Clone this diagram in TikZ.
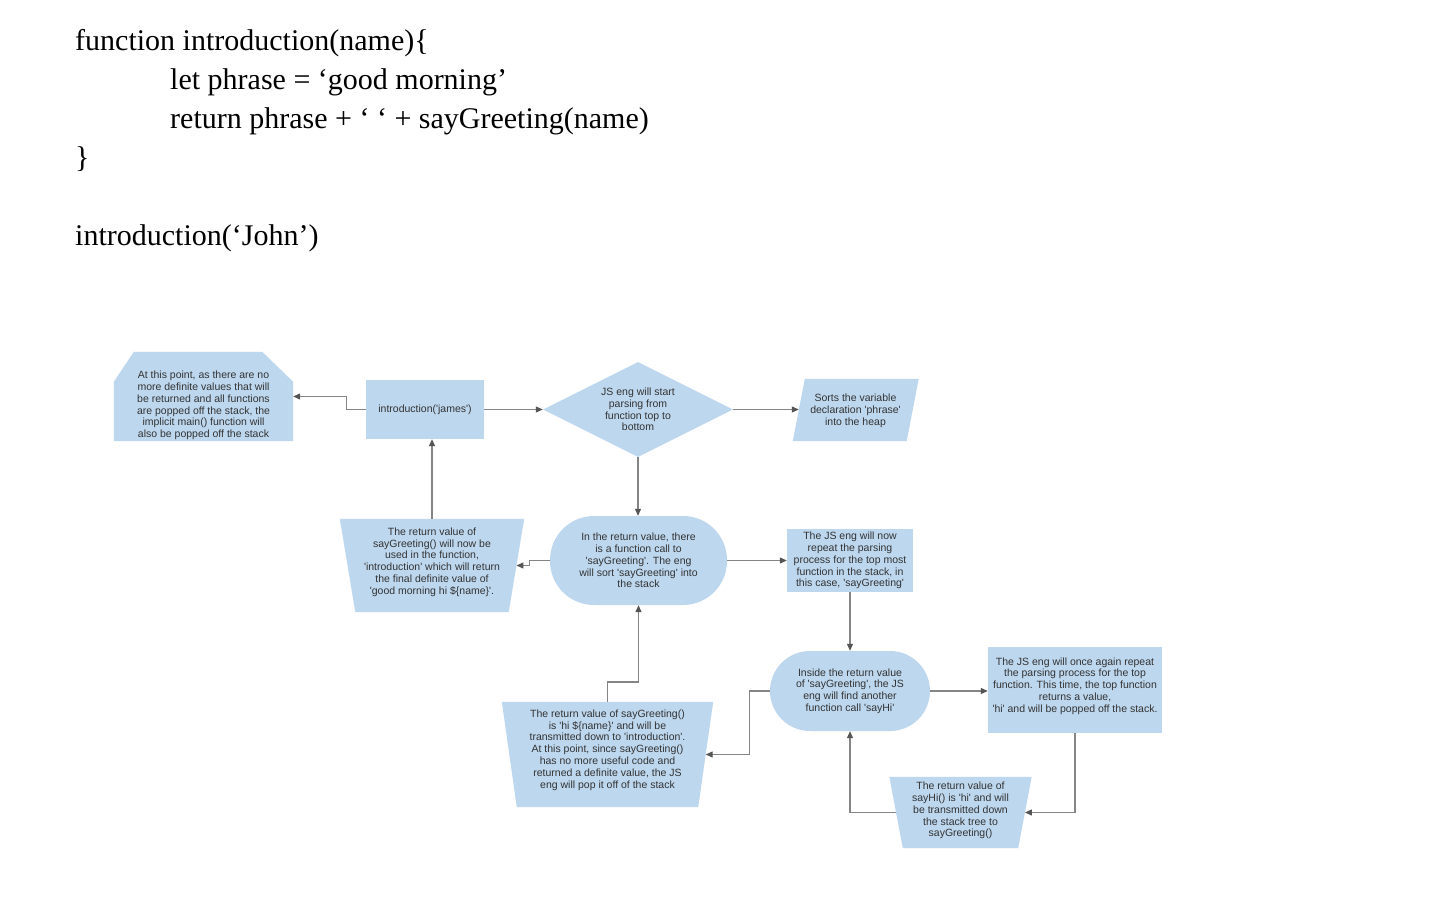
\documentclass[tikz,border=0pt]{standalone}
\usepackage{fontspec}
\setmainfont{Liberation Serif}
\newfontfamily\flowfont{Liberation Sans}[Ligatures=TeXOff]
\usetikzlibrary{shapes.geometric,arrows.meta,calc}
\definecolor{boxfill}{HTML}{BDD7EE}
\definecolor{boxtext}{HTML}{333333}
\definecolor{wiregray}{HTML}{858585}
\definecolor{tipgray}{HTML}{555555}

% fill a trapezoid that is wider at the top; #1 = node, #2 = half slant at mid height
\newcommand\trapfill[2]{%
  \fill[boxfill] ($(#1.north west)+(-#2,0)$) -- ($(#1.north east)+(#2,0)$)
    -- ($(#1.south east)+(-#2,0)$) -- ($(#1.south west)+(#2,0)$) -- cycle;}
% fill a parallelogram leaning right; #1 = node, #2 = half slant
\newcommand\slantfill[2]{%
  \fill[boxfill] ($(#1.north west)+(#2,0)$) -- ($(#1.north east)+(#2,0)$)
    -- ($(#1.south east)+(-#2,0)$) -- ($(#1.south west)+(-#2,0)$) -- cycle;}

\begin{document}
\begin{tikzpicture}[x=1pt,y=-1pt,
  code/.style={anchor=base west, inner sep=0, font=\fontsize{30}{39}\selectfont},
  txt/.style={font=\flowfont\fontsize{10.5}{11.8}\selectfont, text=boxtext, align=center, inner sep=0},
  shapebox/.style={fill=boxfill, draw=none, inner sep=0, txt},
  frame/.style={inner sep=0, draw=none},
  stadium/.style={shapebox, rectangle, rounded corners=#1},
  wire/.style={draw=wiregray, line width=1.2pt, -{Triangle[length=7pt,width=6pt,color=tipgray]}},
]
\useasboundingbox (0,0) rectangle (1452,912);
\fill[white] (0,0) rectangle (1452,912);

% source code
\node[code] (l1) at (75,51) {function introduction(name)\{};
\node[code] (l2) at (170,90) {let phrase = ‘good morning’};
\node[code] (l3) at (170,129) {return phrase + ‘ ‘ + sayGreeting(name)};
\node[code] (l4) at (75,168) {\}};
\node[code] (l5) at (75,246) {introduction(‘John’)};

% flowchart shapes
\node[frame, minimum width=179pt, minimum height=89pt] (endnote) at (203.5,396.5) {};
\fill[boxfill] ($(endnote.north west)+(0,30)$) -- ($(endnote.north west)+(20,0)$)
  -- ($(endnote.north east)+(-31,0)$) -- ($(endnote.north east)+(0,30)$)
  -- (endnote.south east) -- (endnote.south west) -- cycle;
\node[txt] (endnotetext) at (203.5,405.5) {At this point, as there are no\\more definite values that will\\be returned and all functions\\are popped off the stack, the\\implicit main() function will\\also be popped off the stack};

\node[shapebox, minimum width=118pt, minimum height=59pt] (call) at (425,409.5) {introduction('james')};

\node[shapebox, diamond, aspect=2, minimum width=190pt, minimum height=95pt] (parse) at (638,409.5)
  {JS eng will start\\parsing from\\function top to\\bottom};

\node[frame, minimum width=113.5pt, minimum height=62pt] (heap) at (855.75,410) {};
\slantfill{heap}{6}
\node[txt] (heaptext) at (855.5,411) {Sorts the variable\\declaration 'phrase'\\into the heap};

\node[frame, minimum width=168.5pt, minimum height=93pt] (usedin) at (432,565.5) {};
\trapfill{usedin}{7.75}
\node[txt] (usedintext) at (432,562) {The return value of\\sayGreeting() will now be\\used in the function,\\'introduction' which will return\\the final definite value of\\'good morning hi \$\{name\}'.};

\node[stadium=44pt, minimum width=177pt, minimum height=89pt] (stack) at (638.5,560.5)
  {In the return value, there\\is a function call to\\'sayGreeting'. The eng\\will sort 'sayGreeting' into\\the stack};

\node[shapebox, minimum width=126pt, minimum height=63pt] (repeat) at (850,560.5)
  {The JS eng will now\\repeat the parsing\\process for the top most\\function in the stack, in\\this case, 'sayGreeting'};

\node[stadium=40pt, minimum width=160pt, minimum height=80pt] (inner) at (850,691)
  {Inside the return value\\of 'sayGreeting', the JS\\eng will find another\\function call 'sayHi'};

\node[shapebox, minimum width=174pt, minimum height=86pt] (again) at (1075,690) {};
\node[txt] (againtext) at (1075,686) {The JS eng will once again repeat\\the parsing process for the top\\function. This time, the top function\\returns a value,\\'hi' and will be popped off the stack.};

\node[frame, minimum width=128.5pt, minimum height=71pt] (sayhiret) at (960.5,812.5) {};
\trapfill{sayhiret}{6.75}
\node[txt] (sayhirettext) at (960.5,810.5) {The return value of\\sayHi() is 'hi' and will\\be transmitted down\\the stack tree to\\sayGreeting()};

\node[frame, minimum width=196pt, minimum height=105pt] (greetret) at (607.5,754.5) {};
\trapfill{greetret}{7.5}
\node[txt] (greetrettext) at (607.5,750) {The return value of sayGreeting()\\is 'hi \$\{name\}' and will be\\transmitted down to 'introduction'.\\At this point, since sayGreeting()\\has no more useful code and\\returned a definite value, the JS\\eng will pop it off of the stack};

% connectors
\draw[wire] (call.west) -- ++(-19,0) |- (endnote);
\draw[wire] (call) -- (parse);
\draw[wire] (parse.east) -- (parse.east -| heap.west);
\draw[wire] (parse.south) -- (parse.south |- stack.north);
\draw[wire] (stack.west) -- ++(-20,0) |- (usedin);
\draw[wire] (usedin) -- (usedin |- call.south);
\draw[wire] (stack) -- (repeat);
\draw[wire] (repeat) -- (inner);
\draw[wire] (inner.east) -- (inner.east -| again.west);
\draw[wire] (again.south) |- (sayhiret);
\draw[wire] (sayhiret) -| (inner);
\draw[wire] (inner.west) -- ++(-20,0) |- (greetret);
\draw[wire] (greetret) -- (greetret |- 0,682) -| (stack);
\end{tikzpicture}
\end{document}
